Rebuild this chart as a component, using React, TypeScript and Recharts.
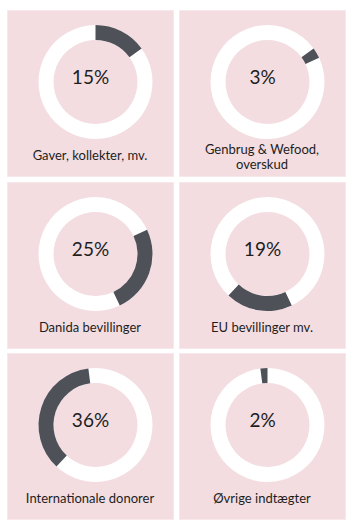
import React from "react";
import { PieChart, Pie, Cell, Label } from "recharts";

const categories = [
  "Gaver, kollekter, mv.",
  "Genbrug & Wefood, overskud",
  "Danida bevillinger",
  "EU bevillinger mv.",
  "Internationale donorer",
  "Øvrige indtægter",
];
const captionLines = [
  ["Gaver, kollekter, mv."],
  ["Genbrug & Wefood,", "overskud"],
  ["Danida bevillinger"],
  ["EU bevillinger mv."],
  ["Internationale donorer"],
  ["Øvrige indtægter"],
];
const values = [15, 3, 25, 19, 36, 2];
const percentLabels = ["15%", "3%", "25%", "19%", "36%", "2%"];

const PANEL_BG = "#f3dde1";
const PANEL_BORDER = "#f8e8eb";
const DARK = "#4e5158";
const RING = "#ffffff";
const TEXT = "#1e1e1e";
const FONT = "Lato, 'Open Sans', sans-serif";

const colX = [7, 179];
const rowY = [10, 182, 353];
const PW = 167;
const PH = 167;

function Panel({ idx }: { idx: number }) {
  const total = values.reduce((a, b) => a + b, 0);
  const before = values.slice(0, idx).reduce((a, b) => a + b, 0);
  const v = values[idx];
  const start = 90 - (before / total) * 360;
  const end = 90 - ((before + v) / total) * 360;
  const ringData = [{ name: "total", value: total }];
  const segData = [{ name: categories[idx], value: v }];
  const col = idx % 2;
  const row = Math.floor(idx / 2);
  const lines = captionLines[idx];
  return (
    <div
      style={{
        position: "absolute",
        left: colX[col],
        top: rowY[row],
        width: PW,
        height: PH,
        background: PANEL_BG,
        boxSizing: "border-box",
        border: `1.5px solid ${PANEL_BORDER}`,
      }}
    >
      <div style={{ position: "absolute", left: -1.5, top: -1.5 }}>
        <PieChart width={PW} height={135}>
          <Pie
            data={ringData}
            dataKey="value"
            cx={PW / 2}
            cy={67}
            innerRadius={42}
            outerRadius={57}
            startAngle={90}
            endAngle={-270}
            stroke="none"
            isAnimationActive={false}
          >
            <Cell fill={RING} />
            <Label
              value={percentLabels[idx]}
              position="center"
              fill={TEXT}
              style={{ fontSize: 19, fontFamily: FONT, fontWeight: 400, fill: TEXT }}
            />
          </Pie>
          <Pie
            data={segData}
            dataKey="value"
            cx={PW / 2}
            cy={67}
            innerRadius={42}
            outerRadius={57}
            startAngle={start}
            endAngle={end}
            stroke="none"
            isAnimationActive={false}
          >
            <Cell fill={DARK} />
          </Pie>
        </PieChart>
      </div>
      <div
        style={{
          position: "absolute",
          left: 0,
          width: PW - 3,
          top: lines.length > 1 ? 131 : 137,
          textAlign: "center",
          fontFamily: FONT,
          fontSize: 13,
          lineHeight: "15px",
          color: TEXT,
        }}
      >
        {lines.map((l, i) => (
          <div key={i}>{l}</div>
        ))}
      </div>
    </div>
  );
}

export default function App() {
  return (
    <div
      style={{
        position: "absolute",
        left: 0,
        top: 0,
        width: 354,
        height: 531,
        background: "#ffffff",
        overflow: "hidden",
      }}
    >
      {values.map((_, i) => (
        <Panel key={i} idx={i} />
      ))}
    </div>
  );
}
